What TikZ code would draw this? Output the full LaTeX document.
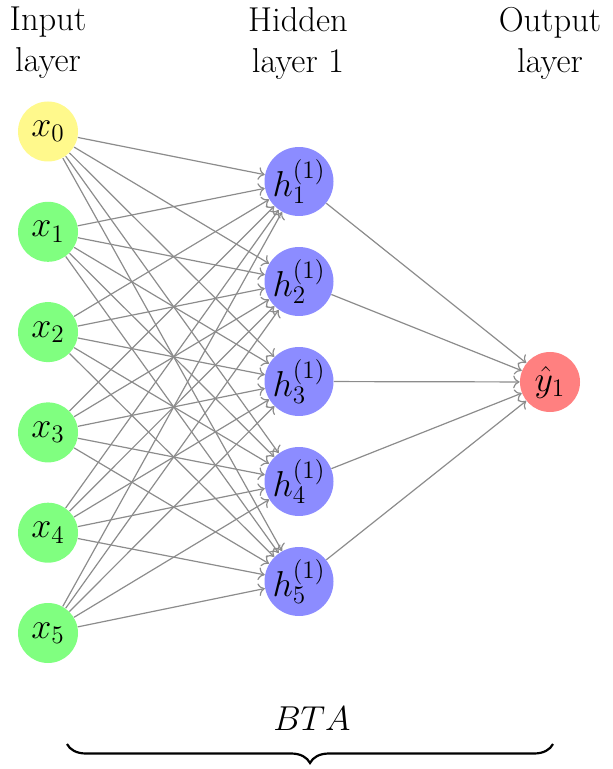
\documentclass[tikz,border=0pt]{standalone}
\usepackage{fix-cm}
\usepackage{fontspec}
\usetikzlibrary{decorations.pathreplacing,arrows.meta}
\tikzset{
  neuron/.style={circle, minimum size=30pt, inner sep=0pt, draw=none,
    font=\fontsize{18}{20}\selectfont},
  inneuron/.style={neuron, fill=green!50},
  biasneuron/.style={neuron, fill=yellow!45},
  hidneuron/.style={neuron, minimum size=33pt, fill=blue!45},
  outneuron/.style={neuron, fill=red!50},
  conn/.style={draw=gray!90, line width=0.6pt, -{To[length=3.2pt,width=6.4pt]}},
  layerlabel/.style={align=center, anchor=north, font=\fontsize{17.28}{20.5}\selectfont, inner sep=0pt}
}
\begin{document}
\begin{tikzpicture}[x=0.5pt,y=-0.5pt]
\useasboundingbox (0,0) rectangle (612,769);
% labels
\node[layerlabel] (lin) at (48,7) {Input\\layer};
\node[layerlabel] (lhid) at (298,7) {Hidden\\layer 1};
\node[layerlabel] (lout) at (550,7) {Output\\layer};
% input nodes
\node[biasneuron] (x0) at (48,131.5) {$x_0$};
\foreach \i in {1,...,5} {
  \node[inneuron] (x\i) at (48,131.5+100.3*\i) {$x_{\i}$};
}
% hidden nodes
\foreach \j in {1,...,5} {
  \node[hidneuron] (h\j) at (299,81.5+100*\j) {$h^{(1)}_{\j}$};
}
% output
\node[outneuron] (y) at (550,382) {$\hat{y}_1$};
% connections
\foreach \i in {0,...,5} {
  \foreach \j in {1,...,5} {
    \draw[conn] (x\i) -- (h\j);
  }
}
\foreach \j in {1,...,5} {
  \draw[conn] (h\j) -- (y);
}
% brace
\coordinate (bl) at (67,744);
\coordinate (br) at (553,744);
\draw[decorate, decoration={brace, mirror, amplitude=9.5pt}, line width=1.1pt] (bl) -- (br);
\node[font=\fontsize{17.28}{20}\selectfont] (bta) at (312,719) {$BTA$};
\end{tikzpicture}
\end{document}
